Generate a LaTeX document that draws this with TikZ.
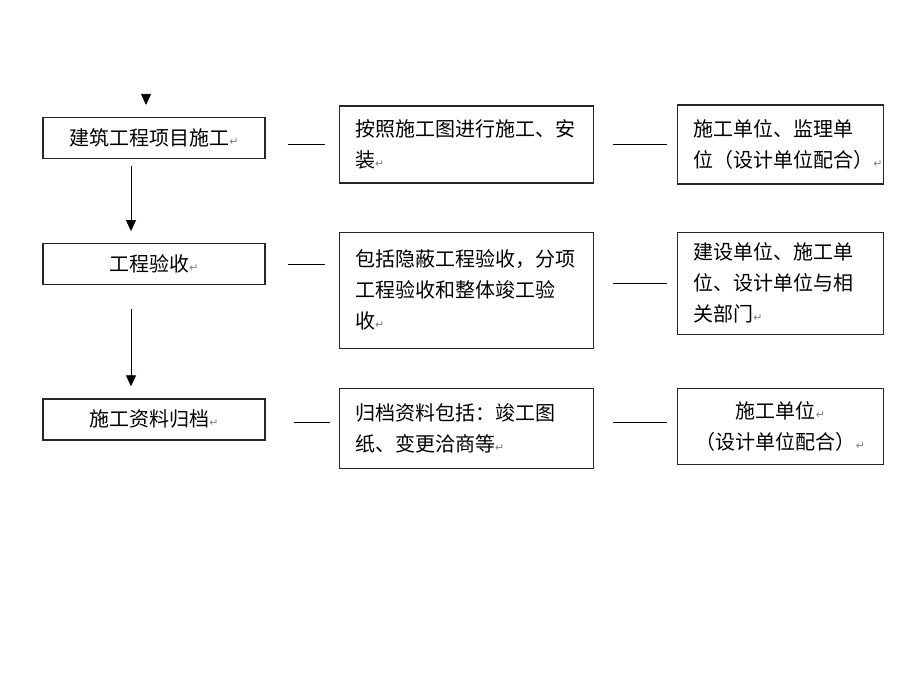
\documentclass[tikz,border=0pt]{standalone}
\usepackage{fontspec}
\setmainfont{Noto Sans CJK SC}
\newfontfamily\markfont{DejaVu Sans}
\usepackage{xcolor}
\usetikzlibrary{arrows.meta, positioning}
\newcommand{\parmark}{{\fontsize{11}{11}\selectfont\markfont\textcolor{black!50}{↵}}}

\begin{document}
\begin{tikzpicture}[
        x=1pt, y=-1pt,
        font=\fontsize{20}{31}\selectfont,
        stage/.style={rectangle, draw=black!85, line width=1.2pt, minimum width=222pt, minimum height=41pt, inner sep=0pt, align=center},
        detail/.style={rectangle, draw=black!85, line width=1.2pt, text width=222pt, inner xsep=16pt, inner ysep=0pt, align=left},
        party/.style={rectangle, draw=black!85, line width=1.2pt, text width=174pt, inner xsep=16pt, inner ysep=0pt, align=left},
        flow/.style={-{Triangle[length=11pt, width=10pt]}, line width=0.8pt},
        link/.style={line width=0.8pt},
    ]
        \useasboundingbox (0,0) rectangle (920,690);

        % Left column: stages
        \node[stage] (a1) at (154,138) {建筑工程项目施工\parmark};
        \node[stage, below=84pt of a1] (a2) {工程验收\parmark};
        \node[stage, below=113pt of a2] (a3) {施工资料归档\parmark};

        % Middle column: contents
        \node[detail, minimum height=77pt, right=73pt of a1, yshift=-6.5pt] (b1) {按照施工图进行施工、安\\装\parmark};
        \node[detail, minimum height=116pt, right=73pt of a2, yshift=-26pt] (b2) {包括隐蔽工程验收，分项\\工程验收和整体竣工验\\收\parmark};
        \node[detail, minimum height=80pt, right=73pt of a3, yshift=-9pt] (b3) {归档资料包括：竣工图\\纸、变更洽商等\parmark};

        % Right column: responsible parties
        \node[party, minimum height=79pt, right=83pt of b1] (c1) {施工单位、监理单\\位（设计单位配合）\parmark};
        \node[party, minimum height=102pt, right=83pt of b2, yshift=7pt] (c2) {建设单位、施工单\\位、设计单位与相\\关部门\parmark};
        \node[party, minimum height=76pt, right=83pt of b3, yshift=2pt, align=center] (c3) {施工单位\parmark\\（设计单位配合）\parmark};

        % Arrows
        \coordinate (entry) at (146,94);
        \draw[flow, shorten >=12pt] (entry) -- (entry |- a1.north);
        \draw[flow, shorten <=7pt, shorten >=12pt] ([xshift=-23pt]a1.south) -- ([xshift=-23pt]a2.north);
        \draw[flow, shorten <=24pt, shorten >=12pt] ([xshift=-23pt]a2.south) -- ([xshift=-23pt]a3.north);

        % Links
        \draw[link, shorten <=22pt, shorten >=14pt] (a1.east |- b1.west) -- (b1.west);
        \draw[link, shorten <=19pt, shorten >=10pt] (b1.east) -- (c1.west);
        \draw[link, shorten <=22pt, shorten >=14pt] (a2.east) -- (a2.east -| b2.west);
        \draw[link, shorten <=19pt, shorten >=10pt] (b2.east |- c2.west) -- (c2.west);
        \coordinate (r3) at ([yshift=-3pt]a3.east);
        \draw[link, shorten <=28pt, shorten >=9pt] (r3) -- (r3 -| b3.west);
        \draw[link, shorten <=19pt, shorten >=10pt] (r3 -| b3.east) -- (r3 -| c3.west);
    \end{tikzpicture}
\end{document}
